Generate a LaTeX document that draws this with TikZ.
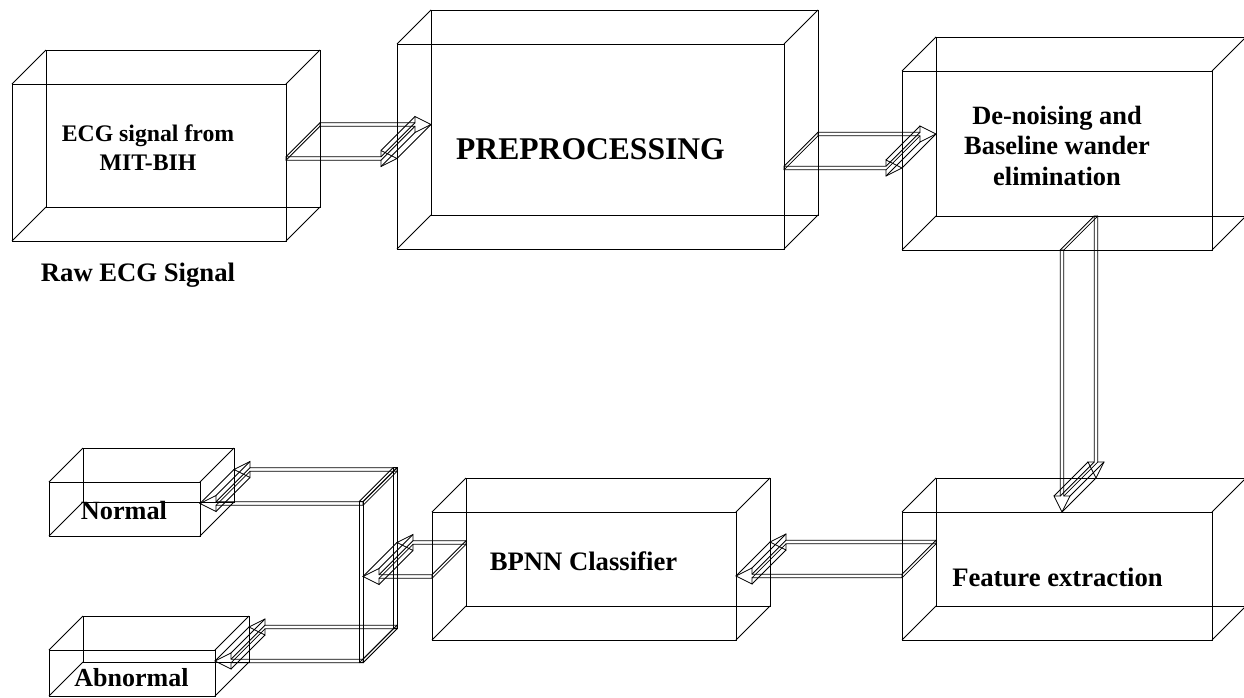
\documentclass[tikz,border=0pt]{standalone}
\usepackage{fontspec}
\setmainfont{Liberation Serif}
\usetikzlibrary{calc}
\tikzset{
  edge/.style={line width=0.6pt, black},
  lbl/.style={anchor=base, inner sep=0pt, font=\bfseries\fontsize{20}{24}\selectfont},
}
% 3D wire-frame box: name, x1, y1, x2, y2 (front face, px)
\newcommand\cube[5]{%
  \coordinate (#1-nw) at (#2,#3);
  \coordinate (#1-se) at (#4,#5);
  \coordinate (#1-sw) at (#2,#5);
  \coordinate (#1-ne) at (#4,#3);
  \draw[edge] (#1-nw) rectangle (#1-se);
  \draw[edge] ($(#1-nw)+(34,-34)$) rectangle ($(#1-se)+(34,-34)$);
  \foreach \c in {nw,ne,sw,se} \draw[edge] (#1-\c) -- ++(34,-34);
}
% 3D block arrow from tail coordinate #1 to tip coordinate #2
\newcommand\blockarrow[2]{%
  \coordinate (hb) at ($(#2)!12pt!(#1)$);
  \coordinate (v1) at ($(#1)!1.35pt!90:(#2)$);
  \coordinate (v2) at ($(hb)!1.35pt!90:(#2)$);
  \coordinate (v3) at ($(hb)!6pt!90:(#2)$);
  \coordinate (v5) at ($(hb)!6pt!-90:(#2)$);
  \coordinate (v6) at ($(hb)!1.35pt!-90:(#2)$);
  \coordinate (v7) at ($(#1)!1.35pt!-90:(#2)$);
  \draw[edge] (v1)--(v2)--(v3)--(#2)--(v5)--(v6)--(v7)--cycle;
  \draw[edge] ($(v1)+(34,-34)$)--($(v2)+(34,-34)$)--($(v3)+(34,-34)$)--($(#2)+(34,-34)$)--($(v5)+(34,-34)$)--($(v6)+(34,-34)$)--($(v7)+(34,-34)$)--cycle;
  \foreach \c in {v1,v2,v3,#2,v5,v6,v7} \draw[edge] (\c) -- ++(34,-34);
}
\begin{document}
\begin{tikzpicture}[x=0.75pt,y=-0.75pt]
\useasboundingbox (0,0) rectangle (1244,697);
\clip (0,0) rectangle (1244,697);

% boxes
\cube{b1}{12}{84}{286}{241}
\cube{b2}{397}{44}{784}{249}
\cube{b3}{902}{71}{1212}{250}
\cube{fe}{902}{512}{1212}{640}
\cube{bp}{432}{512}{736}{640}
\cube{no}{49}{482}{200}{536}
\cube{ab}{49}{650}{215}{696}
\cube{br}{359}{501.7}{363}{662.8}

% arrow end points
\coordinate (yA) at (0,158.5);
\coordinate (yB) at (0,168);
\coordinate (xC) at (1062,0);
\coordinate (yD) at (0,576);
\coordinate (yE) at (0,576.5);
\coordinate (yF) at (0,503.5);
\coordinate (yG) at (0,661);
\coordinate (pA) at (b1-ne |- yA);
\coordinate (qA) at (b2-nw |- yA);
\coordinate (pB) at (b2-ne |- yB);
\coordinate (qB) at (b3-nw |- yB);
\coordinate (pC) at (xC |- b3-sw);
\coordinate (qC) at (xC |- fe-nw);
\coordinate (pD) at (fe-nw |- yD);
\coordinate (qD) at (bp-ne |- yD);
\coordinate (pE) at (bp-nw |- yE);
\coordinate (qE) at (br-ne |- yE);
\coordinate (pF) at (br-ne |- yF);
\coordinate (qF) at (no-ne |- yF);
\coordinate (pG) at (br-ne |- yG);
\coordinate (qG) at (ab-ne |- yG);

\blockarrow{pA}{qA}
\blockarrow{pB}{qB}
\blockarrow{pC}{qC}
\blockarrow{pD}{qD}
\blockarrow{pE}{qE}
\blockarrow{pF}{qF}
\blockarrow{pG}{qG}

% labels
\node[lbl, font=\bfseries\fontsize{17.8}{21}\selectfont] (t1a) at (148,141.7) {ECG signal from};
\node[lbl, font=\bfseries\fontsize{17.8}{21}\selectfont] (t1b) at (148,170) {MIT-BIH};
\node[lbl] (raw) at (138,281) {Raw ECG Signal};
\node[lbl, font=\bfseries\fontsize{23.7}{28}\selectfont] (t2) at (590.5,159) {PREPROCESSING};
\node[lbl, font=\bfseries\fontsize{19.8}{24}\selectfont] (t3a) at (1057,124) {De-noising and};
\node[lbl, font=\bfseries\fontsize{19.8}{24}\selectfont] (t3b) at (1057,154.5) {Baseline wander};
\node[lbl, font=\bfseries\fontsize{19.8}{24}\selectfont] (t3c) at (1057,185.7) {elimination};
\node[lbl] (t4) at (1057.5,586.7) {Feature extraction};
\node[lbl] (t5) at (583.5,570) {BPNN Classifier};
\node[lbl, font=\bfseries\fontsize{19.7}{24}\selectfont] (t6) at (124,519) {Normal};
\begin{scope}
  \clip (0,600) rectangle (300,687);
  \node[lbl, font=\bfseries\fontsize{19.5}{24}\selectfont] (t7) at (131.5,686.5) {Abnormal};
\end{scope}
\end{tikzpicture}
\end{document}
